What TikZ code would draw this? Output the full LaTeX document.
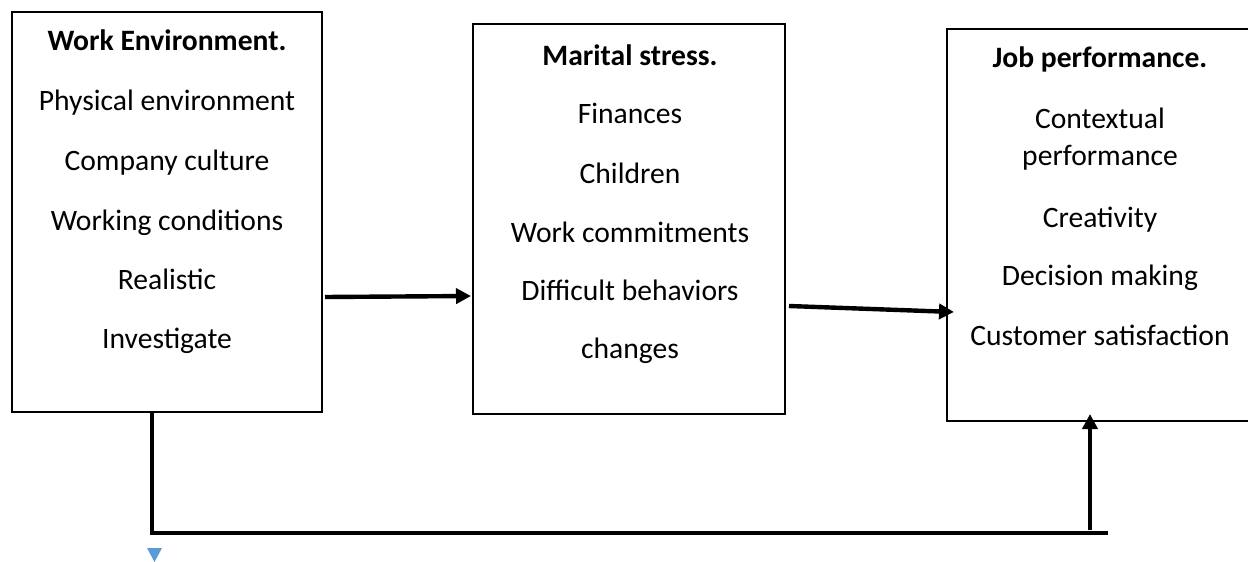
\documentclass[tikz,border=0pt]{standalone}
\usepackage{fontspec}
\setmainfont{Carlito}
\usetikzlibrary{arrows.meta}
\definecolor{tri}{RGB}{91,155,213}
\tikzset{
  box/.style={draw=black, line width=1.4pt, rectangle, inner sep=0pt},
  ln/.style={anchor=base, inner sep=0pt, font=\fontsize{14.8}{17}\selectfont},
  hd/.style={ln, font=\fontsize{14.8}{17}\selectfont\bfseries},
  arr/.style={line width=2.2pt, -{Triangle[length=7.5pt,width=7.5pt]}},
  conn/.style={line width=2.2pt}
}
\begin{document}
\begin{tikzpicture}[x=0.5pt,y=-0.5pt]
\useasboundingbox (0,0) rectangle (1248,562);
% boxes
\node[box, minimum width=155pt, minimum height=200pt] (b1) at (167,212) {};
\node[box, minimum width=156pt, minimum height=195pt] (b2) at (629,219) {};
\node[box, minimum width=152pt, minimum height=196pt] (b3) at (1099,225) {};
% box 1 text
\node[hd] (t11) at (167,50) {Work Environment.};
\node[ln] (t12) at (167,110) {Physical environment};
\node[ln] (t13) at (167,170) {Company culture};
\node[ln] (t14) at (167,230) {Working conditions};
\node[ln] (t15) at (167,289) {Realistic};
\node[ln] (t16) at (167,348) {Investigate};
% box 2 text
\node[hd] (t21) at (630,65) {Marital stress.};
\node[ln] (t22) at (630,123) {Finances};
\node[ln] (t23) at (630,183) {Children};
\node[ln] (t24) at (630,242) {Work commitments};
\node[ln] (t25) at (630,300) {Difficult behaviors};
\node[ln] (t26) at (630,358) {changes};
% box 3 text
\node[hd] (t31) at (1100,68) {Job performance.};
\node[ln] (t32) at (1100,128) {Contextual};
\node[ln] (t33) at (1100,165) {performance};
\node[ln] (t34) at (1100,227) {Creativity};
\node[ln] (t35) at (1100,285) {Decision making};
\node[ln] (t36) at (1100,345) {Customer satisfaction};
% connector points
\coordinate (a1s) at (325,297);
\coordinate (a1e) at (471,296);
\coordinate (a2s) at (789,306);
\coordinate (a2e) at (954,312);
\coordinate (c1) at (152,533);
\coordinate (c2) at (1108,533);
\coordinate (c3s) at (1090,530);
\coordinate (c3e) at (1090,414);
% arrows
\draw[arr] (a1s) -- (a1e);
\draw[arr] (a2s) -- (a2e);
\draw[conn] (b1.south -| c1) -- (c1) -- (c2);
\draw[arr] (c3s) -- (c3e);
% blue marker
\fill[tri] (147,548) -- (162,548) -- (154.5,562) -- cycle;
\end{tikzpicture}
\end{document}
